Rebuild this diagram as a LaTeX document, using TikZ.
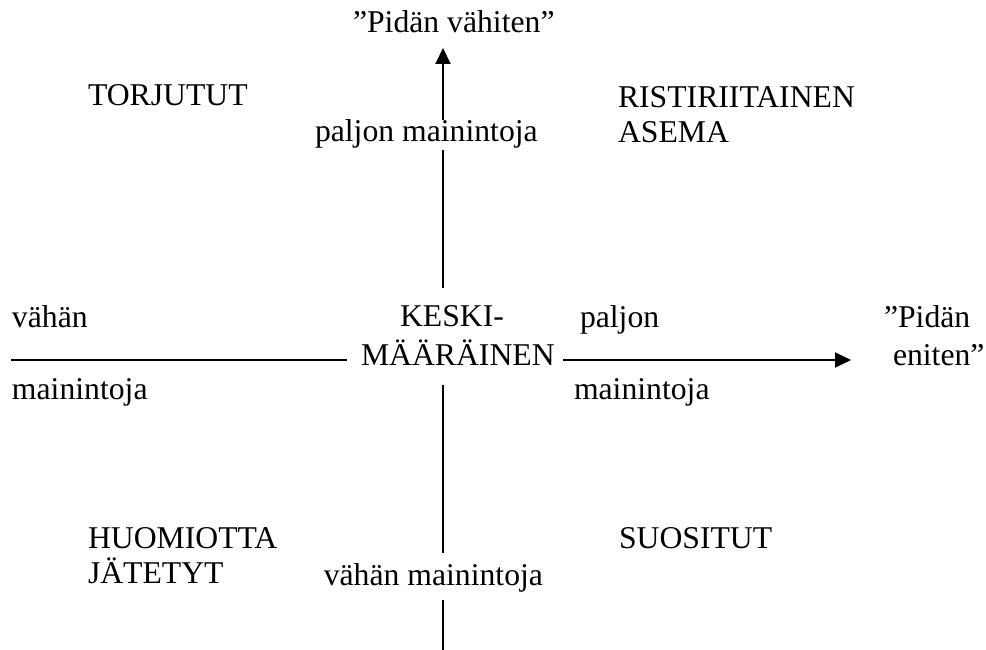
\documentclass[tikz,border=0pt]{standalone}
\usepackage{fontspec}
\setmainfont{Liberation Serif}
\usetikzlibrary{arrows.meta}

\begin{document}
\begin{tikzpicture}[x=1pt,y=-1pt,
  lbl/.style={inner sep=0pt,outer sep=0pt,anchor=base west,
              font=\fontsize{31.7}{38}\selectfont},
  axis/.style={line width=2pt},
  axisarrow/.style={axis,-{Triangle[length=16pt,width=15pt]}}]
\useasboundingbox (0,0) rectangle (986,650);

% quadrant and axis labels
\node[lbl] (top)    at (353,33)  {”Pidän vähiten”};
\node[lbl] (torj)   at (88,106)  {TORJUTUT};
\node[lbl] (rist1)  at (618,108) {RISTIRIITAINEN};
\node[lbl] (rist2)  at (618,143) {ASEMA};
\node[lbl] (upmany) at (315,142) {paljon mainintoja};

\node[lbl] (lfew1)  at (12,327)  {vähän};
\node[lbl] (mid1)   at (400,326) {KESKI-};
\node[lbl] (rmany1) at (580,327) {paljon};
\node[lbl] (right1) at (884,327) {”Pidän};

\node[lbl] (mid2)   at (361,365) {MÄÄRÄINEN};
\node[lbl] (right2) at (893,365) {eniten”};

\node[lbl] (lfew2)  at (12,399)  {mainintoja};
\node[lbl] (rmany2) at (574,399) {mainintoja};

\node[lbl] (huom1)  at (88,548)  {HUOMIOTTA};
\node[lbl] (huom2)  at (88,583)  {JÄTETYT};
\node[lbl] (suos)   at (619,548) {SUOSITUT};
\node[lbl,anchor=base east] (downfew) at (543,585) {vähän mainintoja};

% axis end points
\coordinate (u1) at (443,288);
\coordinate (u2) at (443,150);
\coordinate (u3) at (443,120);
\coordinate (u4) at (443,48);
\coordinate (d1) at (443,385);
\coordinate (d2) at (443,553);
\coordinate (d3) at (443,600);
\coordinate (d4) at (443,650);
\coordinate (l1) at (11,360);
\coordinate (l2) at (347,360);
\coordinate (r1) at (563,360);
\coordinate (r2) at (851,360);

% vertical axis
\draw[axis] (u1) -- (u2);
\draw[axisarrow] (u3) -- (u4);
\draw[axis] (d1) -- (d2);
\draw[axis] (d3) -- (d4);

% horizontal axis
\draw[axis] (l1) -- (l2);
\draw[axisarrow] (r1) -- (r2);
\end{tikzpicture}
\end{document}
